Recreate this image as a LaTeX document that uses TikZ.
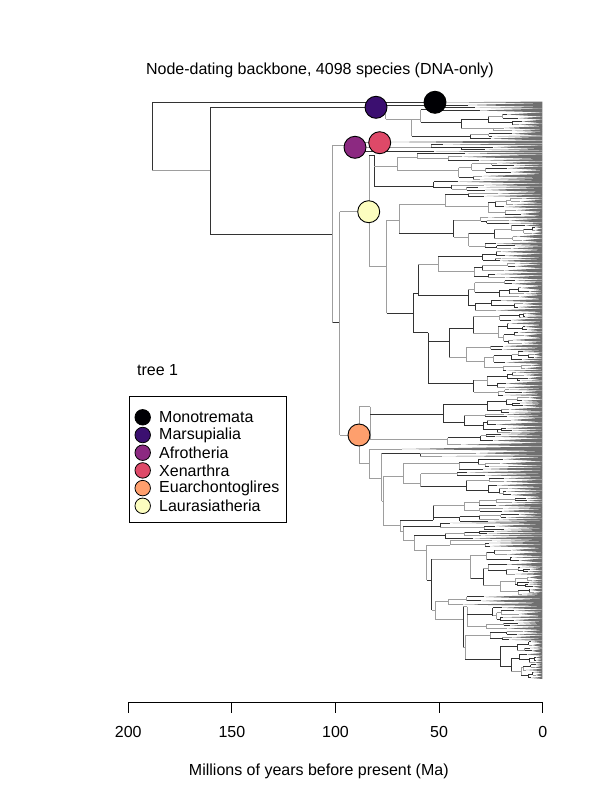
\documentclass[tikz,border=0pt]{standalone}
\usepackage{fontspec}
\setmainfont{Liberation Sans}
\definecolor{cMono}{HTML}{000004}
\definecolor{cMars}{HTML}{3B0F70}
\definecolor{cAfro}{HTML}{8C2981}
\definecolor{cXen}{HTML}{DE4968}
\definecolor{cEua}{HTML}{FE9F6D}
\definecolor{cLau}{HTML}{FCFDBF}
\tikzset{
  dk/.style={draw=black!80,line width=0.9pt},
  lt/.style={draw=black!38,line width=0.9pt},
  tipfill/.style={fill=black!56},
  clade/.style={circle,draw=black,line width=0.9pt,minimum size=22pt,inner sep=0pt},
  legdot/.style={circle,draw=black,line width=0.8pt,minimum size=15.5pt,inner sep=0pt},
  lab/.style={font=\fontsize{16}{19}\selectfont,inner sep=0pt}
}
% random sub-clade: #1 parent x, #2 node x, #3 top tip y, #4 bottom tip y, #5 attach y
\newcommand\subclade[5]{%
\begingroup
\edef\sxp{#1}\edef\sxn{#2}\edef\syt{#3}\edef\syb{#4}\edef\sya{#5}%
\pgfmathparse{rnd}%
\ifdim\pgfmathresult pt<0.55pt\colorlet{curc}{black!80}\else\colorlet{curc}{black!38}\fi
\draw[curc,line width=0.9pt] (\sxp,\sya) -- (\sxn,\sya);
\pgfmathsetmacro\sh{\syb-\syt}%
\ifdim\sh pt<4.6pt
  \fill[tipfill] (\sxn,\sya) -- (542.4,\syt) -- (542.4,\syb) -- cycle;
\else
  \pgfmathsetmacro\sys{\syt+\sh*(0.2+0.6*rnd)}%
  \pgfmathsetmacro\sca{(\syt+\sys)/2}%
  \pgfmathsetmacro\scb{(\sys+\syb)/2}%
  \pgfmathsetmacro\sv{min(\sca,\sya)}%
  \pgfmathsetmacro\sw{max(\scb,\sya)}%
  \draw[curc,line width=0.9pt] (\sxn,\sv) -- (\sxn,\sw);
  \pgfmathsetmacro\sxa{\sxn+(542.4-\sxn)*(0.06+0.4*rnd)}%
  \pgfmathsetmacro\sxb{\sxn+(542.4-\sxn)*(0.06+0.4*rnd)}%
  \subclade{\sxn}{\sxa}{\syt}{\sys}{\sca}%
  \subclade{\sxn}{\sxb}{\sys}{\syb}{\scb}%
\fi
\endgroup}
\begin{document}
\begin{tikzpicture}[x=1pt,y=-1pt]
\useasboundingbox (0,0) rectangle (600,800);
\pgfmathsetseed{12}
\node[lab] (title) at (320,70) {Node-dating backbone, 4098 species (DNA-only)};
% ---- backbone ----
\draw[dk] (152.3,102.3)--(152.3,170.7);
\subclade{152.3}{440}{101.6}{103}{102.3}
\draw[dk] (152.3,102.3)--(440,102.3);
\draw[lt] (152.3,170.7)--(210.3,170.7);
\draw[dk] (210.3,107.3)--(210.3,234.3);
\draw[dk] (210.3,107.3)--(385.7,107.3);
\draw[lt] (385.7,105)--(385.7,119.3);
\subclade{385.7}{468}{103}{107}{105}
\subclade{385.7}{411.7}{107}{140.5}{119.3}
\draw[dk] (210.3,234.3)--(332.7,234.3);
\draw[lt] (332.7,145)--(332.7,322.7);
\draw[lt] (332.7,145)--(350,145);
\draw[dk] (350,142)--(350,148);
\subclade{350}{383}{140.5}{143.5}{142}
\subclade{350}{362}{143.5}{152.5}{148}
\draw[dk] (332.7,322.7)--(339.5,322.7);
\draw[lt] (339.5,211.7)--(339.5,435);
\draw[lt] (339.5,211.7)--(369,211.7);
\draw[lt] (369,155)--(369,266.7);
\subclade{369}{374}{152.5}{192}{155}
\draw[lt] (369,266.7)--(386.7,266.7);
\draw[lt] (386.7,220)--(386.7,313.3);
\subclade{386.7}{399.3}{192}{250}{220}
\draw[dk] (386.7,313.3)--(413.3,313.3);
\draw[dk] (413.3,293)--(413.3,332.7);
\subclade{413.3}{418}{250}{312}{293}
\subclade{413.3}{428.3}{312}{396}{332.7}
\draw[lt] (339.5,435)--(359,435);
\draw[lt] (359,406.7)--(359,463.3);
\subclade{359}{370}{396}{446.5}{406.7}
\draw[lt] (359,463.3)--(369,463.3);
\draw[lt] (369,449)--(369,478);
\subclade{369}{401.7}{446.5}{451}{449}
\draw[lt] (369,478)--(381.7,478);
\draw[lt] (381.7,453.3)--(381.7,501);
\subclade{381.7}{420}{451}{457}{453.3}
\draw[lt] (381.7,501)--(383.3,501);
\draw[lt] (383.3,476)--(383.3,525);
\subclade{383.3}{403}{457}{497}{476}
\draw[lt] (383.3,525)--(400,525);
\draw[lt] (400,520)--(400,531);
\subclade{400}{433}{497}{522}{520}
\draw[lt] (400,531)--(403.3,531);
\draw[lt] (403.3,526)--(403.3,540);
\subclade{403.3}{440}{522}{530}{526}
\draw[lt] (403.3,540)--(414.3,540);
\draw[lt] (414.3,535)--(414.3,550);
\subclade{414.3}{445}{530}{540}{535}
\draw[lt] (414.3,550)--(426.7,550);
\draw[lt] (426.7,545)--(426.7,580);
\subclade{426.7}{450}{540}{548}{545}
\draw[dk] (426.7,580)--(431.7,580);
\draw[dk] (431.7,559.3)--(431.7,610);
\subclade{431.7}{470.7}{548}{595}{559.3}
\draw[lt] (431.7,610)--(435,610);
\draw[lt] (435,601.7)--(435,619.3);
\subclade{435}{448.3}{595}{606}{601.7}
\draw[lt] (435,619.3)--(463.3,619.3);
\draw[dk] (463.3,606.7)--(463.3,647.3);
\subclade{463.3}{467}{606}{630}{606.7}
\subclade{463.3}{465}{630}{679}{647.3}
% ---- clade circles ----
\node[clade,fill=cMono] (mono) at (435,102.3) {};
\node[clade,fill=cMars] (mars) at (376,107.3) {};
\node[clade,fill=cAfro] (afro) at (355,147.3) {};
\node[clade,fill=cXen] (xen) at (379.7,142.7) {};
\node[clade,fill=cLau] (lau) at (368.7,211.7) {};
\node[clade,fill=cEua] (eua) at (359,435) {};
% ---- axis ----
\coordinate (ax0) at (128.3,702.5);
\coordinate (ax1) at (542.7,702.5);
\draw[black,line width=0.9pt] (ax0)--(ax1);
\foreach \t/\xx in {200/128.3,150/231.9,100/335.5,50/439.1,0/542.7}{
  \coordinate (tk\t) at (\xx,702.5);
  \draw[black,line width=0.9pt] (tk\t) -- ++(0,10.2);
  \node[lab] (tl\t) at (\xx,731.7) {\t};
}
\node[lab] (axt) at (318.8,771) {Millions of years before present (Ma)};
% ---- legend ----
\node[lab,anchor=west] (tree) at (137,370) {tree 1};
\node[draw=black,line width=0.9pt,minimum width=157.4pt,minimum height=125.6pt,inner sep=0pt] (legbox) at (208,459.5) {};
\foreach \i/\c/\n in {0/cMono/Monotremata,1/cMars/Marsupialia,2/cAfro/Afrotheria,3/cXen/Xenarthra,4/cEua/Euarchontoglires,5/cLau/Laurasiatheria}{
  \node[legdot,fill=\c] (ld\i) at (142.7,417.3+17.7*\i) {};
  \node[lab,anchor=west] (lt\i) at (159,417.3+17.7*\i) {\n};
}
\end{tikzpicture}
\end{document}
